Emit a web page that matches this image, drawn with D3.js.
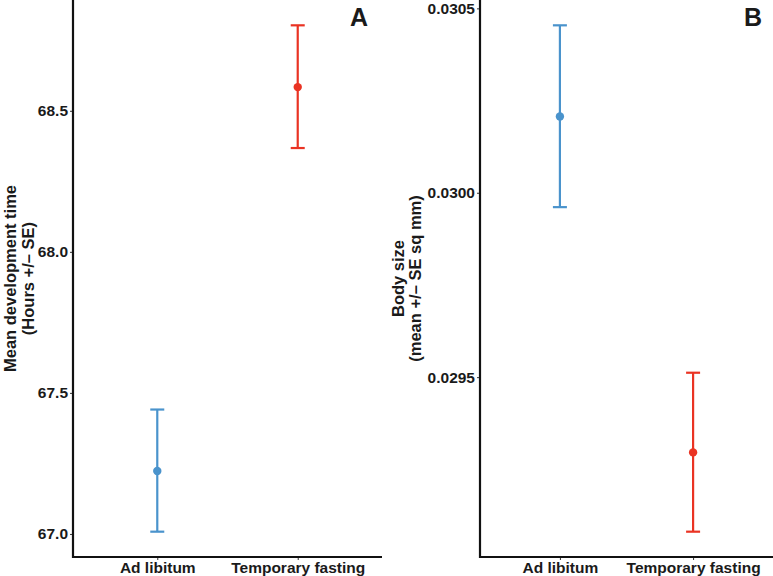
<!DOCTYPE html>
<html>
<head>
<meta charset="utf-8">
<script src="https://cdn.jsdelivr.net/npm/d3@7"></script>
<style>
  body { margin: 0; background: #fff; }
  svg text { font-family: "Liberation Sans", Arial, sans-serif; font-weight: bold; fill: #1a1a1a; }
</style>
</head>
<body>
<svg id="chart" width="773" height="576"></svg>
<script>
// treatments and colours
var groups = ['Ad libitum', 'Temporary fasting'];
var colors = ['#4A93CC', '#EA3323'];

// panel A: development time (hours)
var devMean = [67.223, 68.584];
var devLow = [67.008, 68.368];
var devHigh = [67.441, 68.803];
var devTicks = [67.0, 67.5, 68.0, 68.5];

// panel B: body size (sq mm)
var sizeMean = [0.030207, 0.029296];
var sizeLow = [0.029961, 0.029081];
var sizeHigh = [0.030454, 0.029512];
var sizeTicks = [0.0295, 0.0300, 0.0305];

var svg = d3.select('#chart');

function panel(opt)
{
    var g = svg.append('g');
    var lo = d3.min(opt.low), hi = d3.max(opt.high);
    var pad = (hi - lo) * 0.05;

    var y = d3.scaleLinear().domain([lo - pad, hi + pad]).range([opt.bottom, 0]);
    // ggplot style discrete axis: 0.6 expansion each side
    var x = d3.scaleLinear().domain([0.4, 2.6]).range([opt.left, opt.right]);

    // axes
    var yAxis = d3.axisLeft(y).tickValues(opt.ticks).tickSize(3).tickPadding(2)
        .tickFormat(d3.format(opt.fmt));
    var ya = g.append('g').attr('transform', 'translate(' + opt.left + ',0)').call(yAxis);
    ya.select('.domain').remove();
    ya.selectAll('.tick line').attr('stroke', '#333').attr('stroke-width', 1);
    ya.selectAll('.tick text').style('font-size', '15.5px');

    var xAxis = d3.axisBottom(x).tickValues([1, 2]).tickSize(3).tickPadding(2)
        .tickFormat((d) => groups[d - 1]);
    var xa = g.append('g').attr('transform', 'translate(0,' + opt.bottom + ')').call(xAxis);
    xa.select('.domain').remove();
    xa.selectAll('.tick line').attr('stroke', '#333').attr('stroke-width', 1);
    xa.selectAll('.tick text').style('font-size', '15.5px');

    // axis lines
    g.append('path')
        .attr('d', 'M' + opt.left + ',0V' + opt.bottom + 'H' + opt.right)
        .attr('fill', 'none').attr('stroke', '#111').attr('stroke-width', 2.2);

    // error bars
    var idx = d3.range(groups.length);
    var bars = g.selectAll('g.err').data(idx).enter().append('g')
        .attr('stroke', (i) => colors[i]).attr('fill', (i) => colors[i])
        .attr('stroke-width', 2.2);
    bars.append('line')
        .attr('x1', (i) => x(i + 1)).attr('x2', (i) => x(i + 1))
        .attr('y1', (i) => y(opt.low[i])).attr('y2', (i) => y(opt.high[i]));
    bars.append('line')
        .attr('x1', (i) => x(i + 1) - 7).attr('x2', (i) => x(i + 1) + 7)
        .attr('y1', (i) => y(opt.low[i])).attr('y2', (i) => y(opt.low[i]));
    bars.append('line')
        .attr('x1', (i) => x(i + 1) - 7).attr('x2', (i) => x(i + 1) + 7)
        .attr('y1', (i) => y(opt.high[i])).attr('y2', (i) => y(opt.high[i]));
    bars.append('circle')
        .attr('cx', (i) => x(i + 1)).attr('cy', (i) => y(opt.mean[i]))
        .attr('r', 4.2).attr('stroke', 'none');

    // y title, two lines
    var mid = opt.bottom / 2;
    opt.title.forEach(function(t, k) {
        g.append('text')
            .attr('transform', 'translate(' + opt.titleX[k] + ',' + mid + ') rotate(-90)')
            .attr('text-anchor', 'middle').attr('dominant-baseline', 'central')
            .style('font-size', '16.5px').text(t);
    });

    // panel letter
    g.append('text').attr('x', opt.letterX).attr('y', 26)
        .attr('text-anchor', 'middle').style('font-size', '25px').text(opt.letter);
}

panel({
    left: 73, right: 382, bottom: 557,
    mean: devMean, low: devLow, high: devHigh, ticks: devTicks, fmt: '.1f',
    title: ['Mean development time', '(Hours +/\u2013 SE)'], titleX: [10, 28],
    letter: 'A', letterX: 359
});

panel({
    left: 480, right: 773, bottom: 557,
    mean: sizeMean, low: sizeLow, high: sizeHigh, ticks: sizeTicks, fmt: '.4f',
    title: ['Body size', '(mean +/\u2013 SE sq mm)'], titleX: [398, 415],
    letter: 'B', letterX: 753
});
</script>
</body>
</html>
